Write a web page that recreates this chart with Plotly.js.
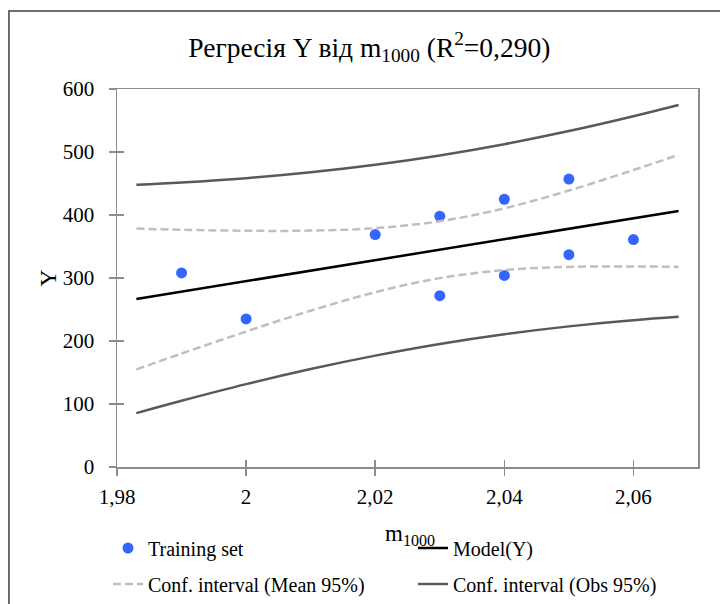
<!DOCTYPE html>
<html>
<head>
<meta charset="utf-8">
<script src="https://cdn.plot.ly/plotly-3.0.1.min.js"></script>
<style>html,body{margin:0;padding:0;background:#fff;}#chart{width:720px;height:604px;}</style>
</head>
<body>
<div id="chart"></div>
<script>
// Training set (observations)
const trainX = [1.99, 2.00, 2.02, 2.03, 2.03, 2.04, 2.04, 2.05, 2.05, 2.06];
const trainY = [308, 235, 369, 398, 272, 425, 304, 457, 337, 361];

// Model and confidence interval curves
const curveX   = [1.983, 1.99, 2.00, 2.01, 2.02, 2.03, 2.04, 2.05, 2.06, 2.067];
const modelY   = [266.7, 278.4, 295.0, 311.6, 328.3, 344.9, 361.6, 378.2, 394.9, 406.5];
const meanLow  = [155.0, 180.1, 215.0, 248.1, 277.5, 299.8, 312.6, 317.6, 318.4, 317.6];
const meanHigh = [378.4, 376.6, 375.0, 375.2, 379.1, 390.1, 410.6, 438.8, 471.4, 495.4];
const obsLow   = [85.5, 105.1, 131.5, 155.5, 176.8, 195.3, 210.7, 223.2, 233.0, 238.4];
const obsHigh  = [447.9, 451.6, 458.5, 467.8, 479.8, 494.6, 512.4, 533.2, 556.8, 574.6];

// Tick labels
const xTickVals = [1.98, 2.00, 2.02, 2.04, 2.06];
const xTickText = ['1,98', '2', '2,02', '2,04', '2,06'];
const yTickVals = [0, 100, 200, 300, 400, 500, 600];
const yTickText = ['0', '100', '200', '300', '400', '500', '600'];

const FONT = 'Liberation Serif';
const AXC = '#8c8c8c';
const XR = [1.98, 2.07];
const YR = [0, 600];

function leg(xpx, ypx) {
  return {orientation: 'h', xref: 'container', yref: 'container',
          x: xpx/720, xanchor: 'left', y: 1 - ypx/604, yanchor: 'middle',
          font: {family: FONT, size: 20, color: '#000'},
          bgcolor: 'rgba(0,0,0,0)', borderwidth: 0};
}

const traces = [
  {x: trainX, y: trainY, type: 'scatter', mode: 'markers', name: 'Training set',
   marker: {color: '#3366FF', size: 11}, legend: 'legend'},
  {x: curveX, y: modelY, type: 'scatter', mode: 'lines', name: 'Model(Y)',
   line: {color: '#000000', width: 2.5}, legend: 'legend2'},
  {x: curveX, y: meanHigh, type: 'scatter', mode: 'lines', name: 'Conf. interval (Mean 95%)',
   line: {color: '#BFBFBF', width: 2.5, dash: '8px,4px', shape: 'spline'},
   legendgroup: 'mean', legend: 'legend3'},
  {x: curveX, y: meanLow, type: 'scatter', mode: 'lines', name: 'Conf. interval (Mean 95%)',
   line: {color: '#BFBFBF', width: 2.5, dash: '8px,4px', shape: 'spline'},
   legendgroup: 'mean', showlegend: false, legend: 'legend3'},
  {x: curveX, y: obsHigh, type: 'scatter', mode: 'lines', name: 'Conf. interval (Obs 95%)',
   line: {color: '#595959', width: 2.5, shape: 'spline'},
   legendgroup: 'obs', legend: 'legend4'},
  {x: curveX, y: obsLow, type: 'scatter', mode: 'lines', name: 'Conf. interval (Obs 95%)',
   line: {color: '#595959', width: 2.5, shape: 'spline'},
   legendgroup: 'obs', showlegend: false, legend: 'legend4'},
  {x: [], y: [], xaxis: 'x2', yaxis: 'y2', type: 'scatter', mode: 'markers',
   showlegend: false, hoverinfo: 'skip'}
];

const layout = {
  width: 720, height: 604,
  paper_bgcolor: '#ffffff', plot_bgcolor: '#ffffff',
  margin: {l: 117, r: 22, t: 89, b: 137},
  font: {family: FONT, color: '#000000'},
  separators: ', ',
  title: {text: 'Регресія Y від m<sub>1000</sub> (R<sup>2</sup>=0,290)',
          font: {family: FONT, size: 27.5, color: '#000000'},
          x: 0.513, xref: 'container', xanchor: 'center',
          y: 1 - 47/604, yref: 'container', yanchor: 'middle'},
  xaxis: {range: XR, tickvals: xTickVals, ticktext: xTickText,
          showgrid: false, zeroline: false, showline: true, mirror: true,
          linecolor: AXC, linewidth: 1.5, ticks: 'outside', ticklen: 7,
          tickcolor: AXC, tickwidth: 1.5, ticklabelstandoff: 3,
          tickfont: {family: FONT, size: 21, color: '#000'}},
  yaxis: {range: YR, tickvals: yTickVals, ticktext: yTickText,
          showgrid: false, zeroline: false, showline: true, mirror: true,
          linecolor: AXC, linewidth: 1.5, ticks: 'outside', ticklen: 7,
          tickcolor: AXC, tickwidth: 1.5, ticklabelstandoff: 10,
          tickfont: {family: FONT, size: 21, color: '#000'},
          title: {text: 'Y', font: {family: FONT, size: 24, color: '#000'}}},
  xaxis2: {range: XR, overlaying: 'x', anchor: 'y2', tickvals: xTickVals,
           showticklabels: false, showgrid: false, zeroline: false, showline: false,
           ticks: 'inside', ticklen: 7, tickcolor: AXC, tickwidth: 1.5, side: 'bottom'},
  yaxis2: {range: YR, overlaying: 'y', anchor: 'x2', tickvals: yTickVals,
           showticklabels: false, showgrid: false, zeroline: false, showline: false,
           ticks: 'inside', ticklen: 7, tickcolor: AXC, tickwidth: 1.5, side: 'left'},
  annotations: [
    {text: 'm<sub>1000</sub>', xref: 'paper', yref: 'paper', x: 0.505, y: (467 - 535)/378,
     xanchor: 'center', yanchor: 'middle', showarrow: false,
     font: {family: FONT, size: 23, color: '#000'}}
  ],
  legend: leg(108, 548),
  legend2: leg(413, 548),
  legend3: leg(108, 584),
  legend4: leg(413, 584),
  shapes: [
    {type: 'rect', xref: 'paper', yref: 'paper',
     x0: (9 - 117)/580.7, x1: 1.2, y0: -0.6, y1: (467 - 11)/378,
     line: {color: '#404040', width: 1.5}, fillcolor: 'rgba(0,0,0,0)', layer: 'above'}
  ],
  showlegend: true
};

Plotly.newPlot('chart', traces, layout, {staticPlot: true, displayModeBar: false});
</script>
</body>
</html>
